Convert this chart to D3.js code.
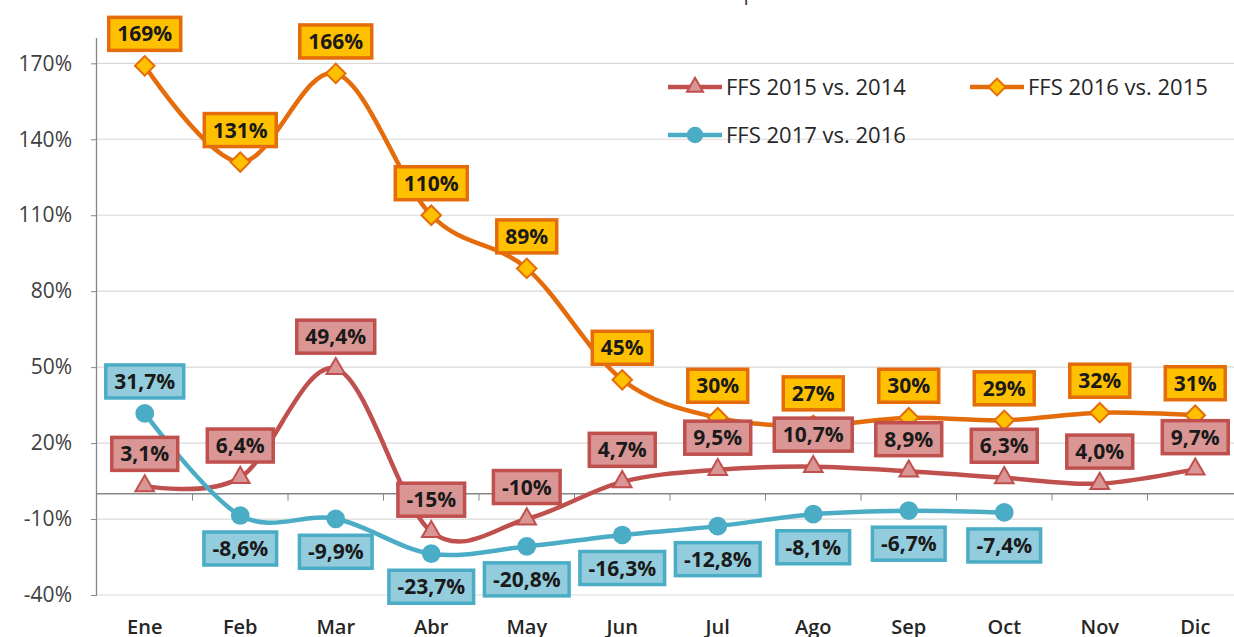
<!DOCTYPE html>
<html>
<head>
<meta charset="utf-8">
<script src="https://cdn.jsdelivr.net/npm/d3@7"></script>
<style>
  body { margin: 0; background: #fff; }
  svg { display: block; font-family: "Open Sans", sans-serif; }
</style>
</head>
<body>
<svg id="chart" width="1234" height="637"></svg>
<script>
const months = ['Ene', 'Feb', 'Mar', 'Abr', 'May', 'Jun', 'Jul', 'Ago', 'Sep', 'Oct', 'Nov', 'Dic'];
const yTicks = [-40, -10, 20, 50, 80, 110, 140, 170];
const ffs2015 = [3.1, 6.4, 49.4, -15, -10, 4.7, 9.5, 10.7, 8.9, 6.3, 4.0, 9.7];
const ffs2015Labels = ['3,1%', '6,4%', '49,4%', '-15%', '-10%', '4,7%', '9,5%', '10,7%', '8,9%', '6,3%', '4,0%', '9,7%'];
const ffs2016 = [169, 131, 166, 110, 89, 45, 30, 27, 30, 29, 32, 31];
const ffs2016Labels = ['169%', '131%', '166%', '110%', '89%', '45%', '30%', '27%', '30%', '29%', '32%', '31%'];
const ffs2017 = [31.7, -8.6, -9.9, -23.7, -20.8, -16.3, -12.8, -8.1, -6.7, -7.4];
const ffs2017Labels = ['31,7%', '-8,6%', '-9,9%', '-23,7%', '-20,8%', '-16,3%', '-12,8%', '-8,1%', '-6,7%', '-7,4%'];
const ffs2017Below = [false, true, true, true, true, true, true, true, true, true];

const series = [
  { name: 'FFS 2015 vs. 2014', values: ffs2015, labels: ffs2015Labels, below: null,
    line: '#C0504D', fill: '#D99694', marker: d3.symbolTriangle, size: 150, rotate: 0 },
  { name: 'FFS 2016 vs. 2015', values: ffs2016, labels: ffs2016Labels, below: null,
    line: '#E46C0A', fill: '#FFC000', marker: d3.symbolSquare, size: 190, rotate: 45 },
  { name: 'FFS 2017 vs. 2016', values: ffs2017, labels: ffs2017Labels, below: ffs2017Below,
    line: '#4BACC6', fill: '#4BACC6', labelFill: '#93CDDD', marker: d3.symbolCircle, size: 220, rotate: 0 }
];

const svg = d3.select('#chart');
const left = 97;
const step = 95.5;
const x = d3.scaleBand().domain(months).range([left, left + step * months.length]);
const y = d3.scaleLinear().domain([-40, 180]).range([595, 38]);
const cx = m => x(m) + x.bandwidth() / 2;

// title (cut off at the top in the reference)
svg.append('text')
  .attr('x', 588).attr('y', 0)
  .attr('text-anchor', 'middle')
  .attr('font-size', 21).attr('fill', '#404040')
  .text('Variación interanual del acumulado del período');

// gridlines
svg.append('g').selectAll('line')
  .data(yTicks)
  .join('line')
  .attr('x1', left).attr('x2', 1234)
  .attr('y1', d => y(d)).attr('y2', d => y(d))
  .attr('stroke', '#D9D9D9').attr('stroke-width', 1.2);

// y axis
const yAxis = svg.append('g').attr('transform', `translate(${left},0)`)
  .call(d3.axisLeft(y).tickValues(yTicks).tickSize(6).tickFormat(d => d + '%'));
yAxis.select('.domain').attr('d', `M-0.5,${y(180)}V${y(-40)}`).attr('stroke', '#868686').attr('stroke-width', 1.3);
yAxis.selectAll('.tick line').attr('stroke', '#868686');
yAxis.selectAll('.tick text')
  .attr('x', -25)
  .attr('font-family', '"Open Sans", sans-serif')
  .attr('font-size', 21)
  .attr('fill', '#404040');

// category axis at 0
const xAxis = svg.append('g').attr('transform', `translate(0,${y(0)})`);
xAxis.append('line')
  .attr('x1', left).attr('x2', 1234)
  .attr('stroke', '#868686').attr('stroke-width', 1.3);
xAxis.selectAll('.xtick')
  .data(months.slice(1))
  .join('line')
  .attr('class', 'xtick')
  .attr('x1', d => x(d)).attr('x2', d => x(d))
  .attr('y1', 0).attr('y2', 7)
  .attr('stroke', '#868686');
svg.append('g').selectAll('text')
  .data(months)
  .join('text')
  .attr('x', d => cx(d))
  .attr('y', 634)
  .attr('text-anchor', 'middle')
  .attr('font-size', 20)
  .attr('font-weight', 600)
  .attr('fill', '#262626')
  .text(d => d);

// lines and markers
const line = d3.line().curve(d3.curveCatmullRom.alpha(0));
series.forEach(s => {
  const pts = s.values.map((v, i) => [cx(months[i]), y(v)]);
  svg.append('path')
    .attr('d', line(pts))
    .attr('fill', 'none')
    .attr('stroke', s.line)
    .attr('stroke-width', 4.5)
    .attr('stroke-linejoin', 'round');
  svg.append('g').selectAll('path')
    .data(pts)
    .join('path')
    .attr('transform', d => `translate(${d[0]},${d[1]}) rotate(${s.rotate})`)
    .attr('d', d3.symbol(s.marker, s.size))
    .attr('fill', s.fill)
    .attr('stroke', s.line)
    .attr('stroke-width', 2);
});

// data labels
series.forEach(s => {
  const g = svg.append('g');
  s.values.forEach((v, i) => {
    const below = s.below ? s.below[i] : false;
    const lx = cx(months[i]);
    const ly = y(v) + (below ? 33 : -32);
    const lg = g.append('g').attr('transform', `translate(${lx},${ly})`);
    const rect = lg.append('rect');
    const t = lg.append('text')
      .attr('text-anchor', 'middle')
      .attr('dy', '0.36em')
      .attr('font-size', 21)
      .attr('font-weight', 700)
      .attr('fill', '#1a1a1a')
      .text(s.labels[i]);
    const w = t.node().getComputedTextLength() + 17;
    rect.attr('x', -w / 2).attr('y', -16.5)
      .attr('width', w).attr('height', 33)
      .attr('fill', s.labelFill || s.fill)
      .attr('stroke', s.line)
      .attr('stroke-width', 3.5);
  });
});

// legend
const legendPos = [[668, 87], [970, 87], [668, 135]];
series.forEach((s, i) => {
  const [lx, ly] = legendPos[i];
  const g = svg.append('g').attr('transform', `translate(${lx},${ly})`);
  g.append('line').attr('x1', 0).attr('x2', 54)
    .attr('stroke', s.line).attr('stroke-width', 4.5);
  g.append('path')
    .attr('transform', `translate(27,0) rotate(${s.rotate})`)
    .attr('d', d3.symbol(s.marker, s.size * 0.75))
    .attr('fill', s.fill)
    .attr('stroke', s.line)
    .attr('stroke-width', 2);
  g.append('text')
    .attr('x', 58)
    .attr('dy', '0.36em')
    .attr('font-size', 22)
    .attr('fill', '#262626')
    .text(s.name);
});
</script>
</body>
</html>
